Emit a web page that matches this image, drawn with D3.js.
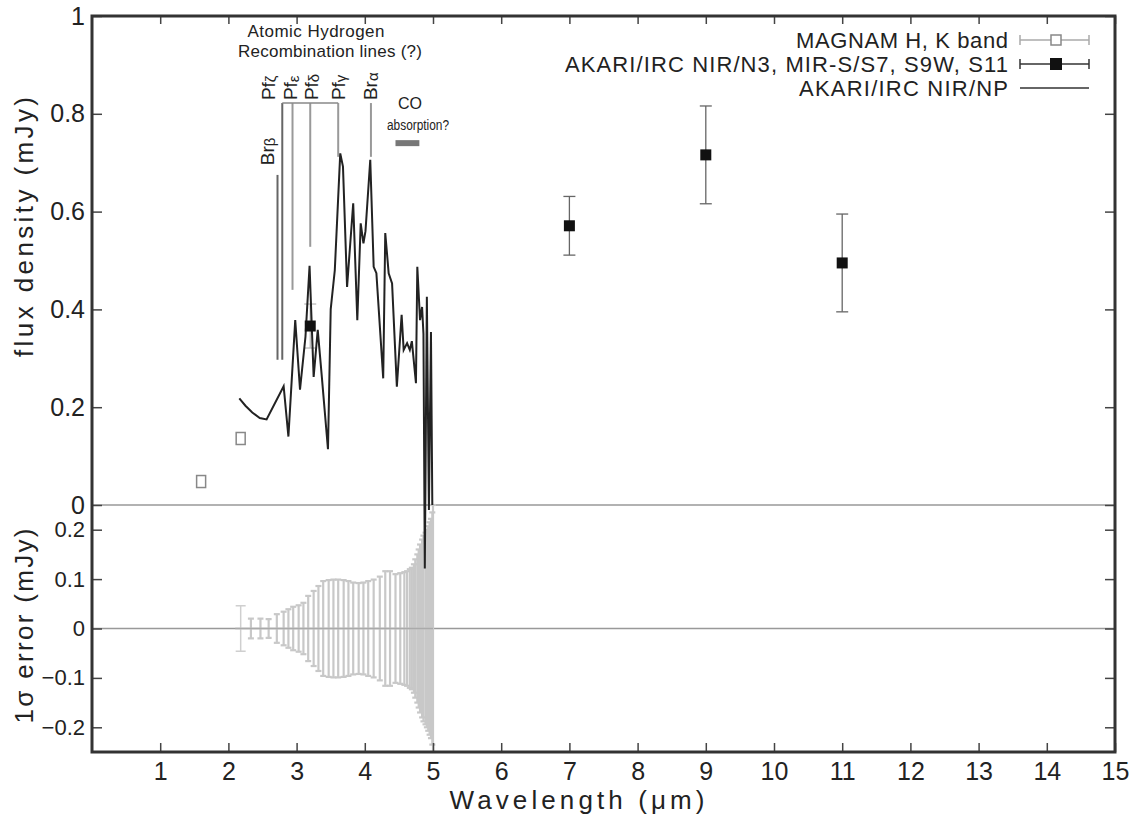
<!DOCTYPE html>
<html>
<head>
<meta charset="utf-8">
<script src="https://cdn.jsdelivr.net/npm/d3@7"></script>
<style>
  body { margin: 0; background: #fff; }
  svg { display: block; font-family: "Liberation Sans", Arial, sans-serif; }
</style>
</head>
<body>
<div id="chart"></div>
<script>
// MAGNAM H, K band photometry
const magnamWave = [1.60, 2.18];
const magnamFlux = [0.048, 0.136];
const magnamSigma = [0, 0.046];

// AKARI/IRC photometry (N3, S7, S9W, S11)
const akariWave = [3.20, 7.0, 9.0, 11.0];
const akariFlux = [0.366, 0.571, 0.716, 0.495];
const akariSigma = [0.045, 0.06, 0.10, 0.10];

// AKARI/IRC NIR/NP spectrum
const specWave = [2.16, 2.25, 2.35, 2.46, 2.56, 2.81, 2.88, 2.98, 3.05, 3.13, 3.19, 3.25, 3.31, 3.37,
  3.46, 3.50, 3.56, 3.64, 3.68, 3.74, 3.83, 3.89, 3.94, 3.98, 4.01, 4.08, 4.13, 4.17, 4.27, 4.30,
  4.35, 4.40, 4.47, 4.54, 4.57, 4.62, 4.66, 4.69, 4.75, 4.77, 4.81, 4.84, 4.86, 4.88, 4.91, 4.94,
  4.97, 4.99];
const specFlux = [0.218, 0.203, 0.189, 0.178, 0.175, 0.243, 0.140, 0.378, 0.236, 0.344, 0.489, 0.262, 0.358, 0.262,
  0.114, 0.400, 0.480, 0.719, 0.692, 0.446, 0.617, 0.378, 0.576, 0.535, 0.560, 0.706, 0.487, 0.474, 0.259, 0.556,
  0.474, 0.453, 0.242, 0.389, 0.317, 0.331, 0.317, 0.335, 0.249, 0.487, 0.378, 0.405, 0.350, -0.130, 0.426, -0.010,
  0.354, 0.0];

// 1 sigma error of the spectrum
const errWave = [2.33, 2.47, 2.59, 2.71, 2.81, 2.88, 2.95, 3.03, 3.10, 3.17, 3.25, 3.32, 3.39, 3.47,
  3.54, 3.61, 3.69, 3.76, 3.83, 3.91, 3.98, 4.05, 4.13, 4.22, 4.30, 4.37, 4.45, 4.52, 4.58, 4.62,
  4.66, 4.69, 4.72, 4.74, 4.77, 4.79, 4.81, 4.84, 4.86, 4.89, 4.91, 4.93, 4.95, 4.97, 4.99, 5.00];
const errSigma = [0.020, 0.020, 0.019, 0.029, 0.034, 0.039, 0.044, 0.047, 0.052, 0.066, 0.076, 0.086, 0.096, 0.098,
  0.099, 0.099, 0.098, 0.096, 0.093, 0.092, 0.093, 0.096, 0.099, 0.105, 0.116, 0.116, 0.110, 0.112, 0.114, 0.116,
  0.120, 0.123, 0.130, 0.140, 0.150, 0.160, 0.170, 0.180, 0.188, 0.194, 0.200, 0.207, 0.215, 0.222, 0.235, 0.260];

// recombination line markers
const lineNames = ["Brβ", "Pfζ", "Pfε", "Pfδ", "Pfγ", "Brα"];
const lineWave = [2.72, 2.79, 2.94, 3.20, 3.61, 4.09];
const lineTop = [0.675, 0.822, 0.822, 0.822, 0.822, 0.822];
const lineBottom = [0.297, 0.297, 0.44, 0.528, 0.712, 0.712];
const labelWave = [2.57, 2.58, 2.91, 3.21, 3.61, 4.08];
const labelFlux = [0.695, 0.828, 0.828, 0.828, 0.828, 0.828];

// CO absorption band
const coRange = [4.45, 4.80];
const coFlux = 0.74;

const xTicks = d3.range(1, 16);
const yTopTicks = [0, 0.2, 0.4, 0.6, 0.8, 1];
const yBotTicks = [-0.2, -0.1, 0, 0.1, 0.2];

const width = 1141, height = 826;
const m = { left: 92, right: 1115, top: 16, split: 505, bottom: 752 };

const svg = d3.select("#chart").append("svg")
  .attr("width", width).attr("height", height);

const x = d3.scaleLinear().domain([0, 15]).range([m.left, m.right]);
const yTop = d3.scaleLinear().domain([0, 1]).range([m.split, m.top]);
const yBot = d3.scaleLinear().domain([-0.25, 0.25]).range([m.bottom, m.split]);

const ink = "#222";
const fmt = d3.format("~g");

// guide lines
svg.append("line").attr("x1", m.left).attr("x2", m.right)
  .attr("y1", yTop(0)).attr("y2", yTop(0)).attr("stroke", "#999").attr("stroke-width", 1.5);
svg.append("line").attr("x1", m.left).attr("x2", m.right)
  .attr("y1", yBot(0)).attr("y2", yBot(0)).attr("stroke", "#999").attr("stroke-width", 1.5);

// lower panel: error bars
const errG = svg.append("g").attr("stroke", "#c8c8c8").attr("stroke-width", 2.2);
errWave.forEach((w, i) => {
  const s = Math.min(errSigma[i], 0.25);
  errG.append("line").attr("x1", x(w)).attr("x2", x(w))
    .attr("y1", yBot(s)).attr("y2", yBot(-s));
  [s, -s].forEach(v => errG.append("line")
    .attr("x1", x(w) - 3).attr("x2", x(w) + 3)
    .attr("y1", yBot(v)).attr("y2", yBot(v)));
});
magnamWave.forEach((w, i) => {
  const s = magnamSigma[i];
  if (!s) return;
  const g = svg.append("g").attr("stroke", "#cfcfcf").attr("stroke-width", 1.5);
  g.append("line").attr("x1", x(w)).attr("x2", x(w)).attr("y1", yBot(s)).attr("y2", yBot(-s));
  [s, -s].forEach(v => g.append("line").attr("x1", x(w) - 5).attr("x2", x(w) + 5)
    .attr("y1", yBot(v)).attr("y2", yBot(v)));
});
svg.append("line").attr("x1", x(2.1)).attr("x2", x(5.0))
  .attr("y1", yBot(0)).attr("y2", yBot(0)).attr("stroke", "#aaa").attr("stroke-width", 1.5);

// annotation: recombination lines
const ann = svg.append("g");
lineNames.forEach((n, i) => {
  ann.append("line")
    .attr("x1", x(lineWave[i])).attr("x2", x(lineWave[i]))
    .attr("y1", yTop(lineTop[i])).attr("y2", yTop(lineBottom[i]))
    .attr("stroke", i < 2 ? "#666" : "#999").attr("stroke-width", 2);
  const t = ann.append("text")
    .attr("transform", `translate(${x(labelWave[i])},${yTop(labelFlux[i])}) rotate(-90)`)
    .attr("text-anchor", "start").attr("dy", "0.35em")
    .attr("font-size", 19).attr("fill", ink);
  t.append("tspan").text(n.slice(0, 2));
  t.append("tspan").attr("font-size", 15).attr("dy", "0.1em").text(n.slice(2));
});
ann.append("line")
  .attr("x1", x(lineWave[1])).attr("x2", x(lineWave[4]))
  .attr("y1", yTop(0.822)).attr("y2", yTop(0.822))
  .attr("stroke", "#888").attr("stroke-width", 1.5);
ann.append("text").attr("x", 316).attr("y", 37).attr("text-anchor", "middle")
  .attr("font-size", 17).attr("fill", ink).attr("textLength", 137).text("Atomic Hydrogen");
ann.append("text").attr("x", 330).attr("y", 57).attr("text-anchor", "middle")
  .attr("font-size", 17).attr("fill", ink).attr("textLength", 184).text("Recombination lines (?)");
ann.append("text").attr("x", 410).attr("y", 109).attr("text-anchor", "middle")
  .attr("font-size", 16).attr("fill", ink).text("CO");
ann.append("text").attr("x", 418).attr("y", 130).attr("text-anchor", "middle")
  .attr("font-size", 14).attr("fill", ink)
  .attr("textLength", 62).attr("lengthAdjust", "spacingAndGlyphs").text("absorption?");
ann.append("line")
  .attr("x1", x(coRange[0])).attr("x2", x(coRange[1]))
  .attr("y1", yTop(coFlux)).attr("y2", yTop(coFlux))
  .attr("stroke", "#777").attr("stroke-width", 6);

// photometry error bars
akariWave.forEach((w, i) => {
  const s = akariSigma[i];
  const g = svg.append("g").attr("stroke", i === 0 ? "#bbb" : "#666").attr("stroke-width", 1.3);
  g.append("line").attr("x1", x(w)).attr("x2", x(w))
    .attr("y1", yTop(akariFlux[i] + s)).attr("y2", yTop(akariFlux[i] - s));
  [s, -s].forEach(v => g.append("line").attr("x1", x(w) - 6).attr("x2", x(w) + 6)
    .attr("y1", yTop(akariFlux[i] + v)).attr("y2", yTop(akariFlux[i] + v)));
});

// spectrum
const specLine = d3.line().x((d, i) => x(specWave[i])).y(d => yTop(d));
svg.append("path").datum(specFlux).attr("d", specLine)
  .attr("fill", "none").attr("stroke", ink).attr("stroke-width", 2)
  .attr("stroke-linejoin", "miter");

// MAGNAM points
svg.selectAll(".mag").data(magnamWave).join("rect")
  .attr("x", d => x(d) - 4.5).attr("y", (d, i) => yTop(magnamFlux[i]) - 6)
  .attr("width", 9).attr("height", 12)
  .attr("fill", "#fff").attr("stroke", "#888").attr("stroke-width", 1.5);

// AKARI points
svg.selectAll(".ak").data(akariWave).join("rect")
  .attr("x", d => x(d) - 5.5).attr("y", (d, i) => yTop(akariFlux[i]) - 5.5)
  .attr("width", 11).attr("height", 11).attr("fill", "#111");

// axes
const styleAxis = size => g => {
  g.select(".domain").remove();
  g.selectAll(".tick line").attr("stroke", "#444").attr("stroke-width", 1.5);
  g.selectAll(".tick text").attr("fill", ink).attr("font-size", size)
    .attr("font-family", "Liberation Sans, Arial, sans-serif");
};
svg.append("g").attr("transform", `translate(0,${m.bottom})`)
  .call(d3.axisBottom(x).tickValues(xTicks).tickSizeInner(-9).tickSizeOuter(0).tickPadding(10))
  .call(styleAxis(25));
svg.append("g").attr("transform", `translate(0,${m.top})`)
  .call(d3.axisTop(x).tickValues(xTicks).tickSizeInner(-8).tickSizeOuter(0).tickFormat(""))
  .call(styleAxis(25));
svg.append("g").attr("transform", `translate(${m.left},0)`)
  .call(d3.axisLeft(yTop).tickValues(yTopTicks).tickSizeInner(-10).tickSizeOuter(0).tickPadding(7).tickFormat(fmt))
  .call(styleAxis(25));
svg.append("g").attr("transform", `translate(${m.left},0)`)
  .call(d3.axisLeft(yBot).tickValues(yBotTicks).tickSizeInner(-10).tickSizeOuter(0).tickPadding(7).tickFormat(fmt))
  .call(styleAxis(22));
svg.append("g").attr("transform", `translate(${m.right},0)`)
  .call(d3.axisRight(yTop).tickValues(yTopTicks).tickSizeInner(-10).tickSizeOuter(0).tickFormat(""))
  .call(styleAxis(25));
svg.append("g").attr("transform", `translate(${m.right},0)`)
  .call(d3.axisRight(yBot).tickValues(yBotTicks).tickSizeInner(-10).tickSizeOuter(0).tickFormat(""))
  .call(styleAxis(22));

// frame
svg.append("rect").attr("x", m.left).attr("y", m.top)
  .attr("width", m.right - m.left).attr("height", m.bottom - m.top)
  .attr("fill", "none").attr("stroke", "#333").attr("stroke-width", 3);

// axis titles
svg.append("text").attr("x", 577).attr("y", 809).attr("text-anchor", "middle")
  .attr("font-size", 26).attr("fill", ink).attr("textLength", 255).text("Wavelength (μm)");
svg.append("text").attr("transform", `translate(33,227) rotate(-90)`).attr("text-anchor", "middle")
  .attr("font-size", 26).attr("fill", ink).attr("textLength", 260).text("flux density (mJy)");
svg.append("text").attr("transform", `translate(33,626) rotate(-90)`).attr("text-anchor", "middle")
  .attr("font-size", 26).attr("fill", ink).attr("textLength", 195).text("1σ error (mJy)");

// legend
const legendRows = [
  { label: "MAGNAM H, K band", w: 212, kind: "open" },
  { label: "AKARI/IRC NIR/N3, MIR-S/S7, S9W, S11", w: 443, kind: "filled" },
  { label: "AKARI/IRC NIR/NP", w: 209, kind: "line" }
];
const leg = svg.append("g");
legendRows.forEach((r, i) => {
  const cy = 40 + i * 24;
  leg.append("text").attr("x", 1008).attr("y", cy + 8).attr("text-anchor", "end")
    .attr("font-size", 22).attr("fill", ink).attr("textLength", r.w).text(r.label);
  const col = r.kind === "open" ? "#aaa" : "#333";
  leg.append("line").attr("x1", 1020).attr("x2", 1089).attr("y1", cy).attr("y2", cy)
    .attr("stroke", col).attr("stroke-width", 1.5);
  if (r.kind !== "line") {
    [1020, 1089].forEach(xx => leg.append("line").attr("x1", xx).attr("x2", xx)
      .attr("y1", cy - 5).attr("y2", cy + 5).attr("stroke", col).attr("stroke-width", 1.5));
  }
  if (r.kind === "open") {
    leg.append("rect").attr("x", 1051).attr("y", cy - 5).attr("width", 10).attr("height", 10)
      .attr("fill", "#fff").attr("stroke", "#888").attr("stroke-width", 1.5);
  } else if (r.kind === "filled") {
    leg.append("rect").attr("x", 1050).attr("y", cy - 6).attr("width", 12).attr("height", 12)
      .attr("fill", "#111");
  }
});
</script>
</body>
</html>
